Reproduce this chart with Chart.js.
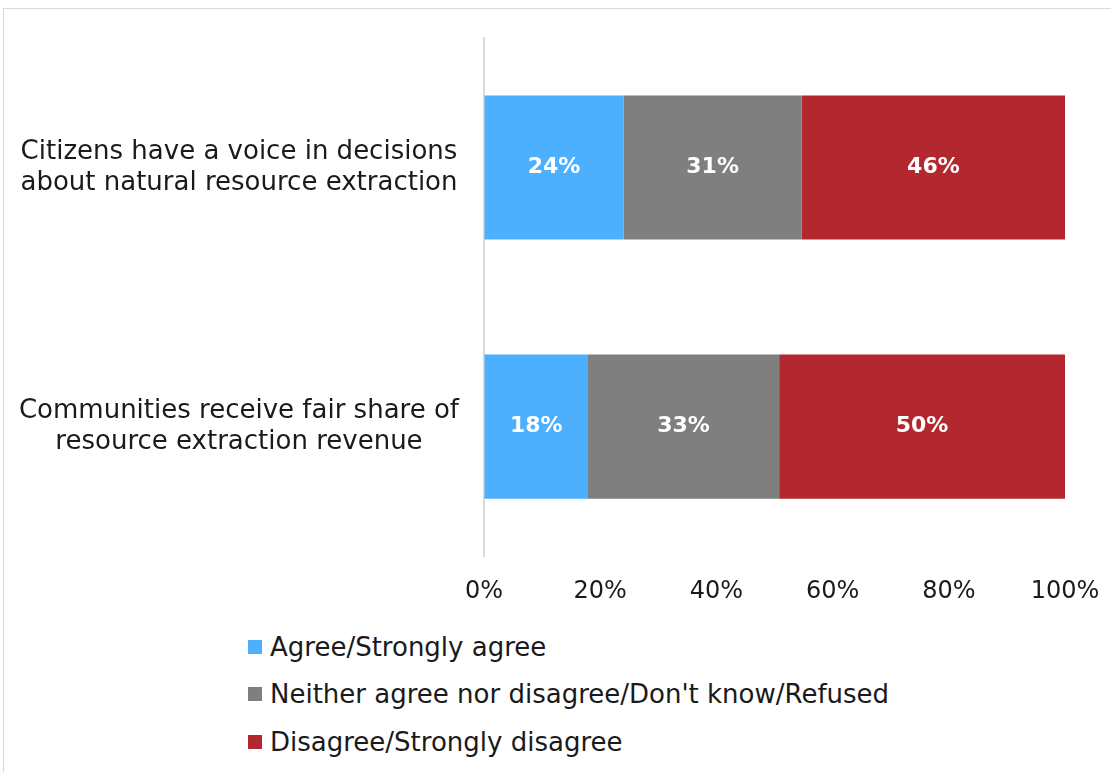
<!DOCTYPE html>
<html>
<head>
<meta charset="utf-8">
<script src="https://cdn.jsdelivr.net/npm/chart.js@4.4.1/dist/chart.umd.min.js"></script>
<style>
  html, body { margin: 0; padding: 0; background: #fff; }
  body { width: 1111px; height: 772px; position: relative; overflow: hidden; font-family: "DejaVu Sans", sans-serif; }
  .frame { position: absolute; left: 3px; top: 8px; width: 1130px; height: 800px; border: 1px solid #d9d9d9; box-sizing: border-box; }
  .chart-box { position: absolute; left: 0; top: 0; width: 1111px; height: 615px; }
  .legend { position: absolute; left: 248px; top: 623px; }
  .legend-item { display: flex; align-items: center; height: 47.5px; font-size: 26px; color: #1a1a1a; }
  .legend-swatch { width: 14px; height: 14px; margin-right: 8px; flex: none; }
</style>
</head>
<body>
<div class="frame"></div>
<div class="chart-box"><canvas id="chart"></canvas></div>
<div class="legend" id="legend"></div>
<script>
// Categories (two-line labels)
const categories = [
  ['Citizens have a voice in decisions', 'about natural resource extraction'],
  ['Communities receive fair share of', 'resource extraction revenue']
];

// Series names and colours
const seriesNames = [
  'Agree/Strongly agree',
  'Neither agree nor disagree/Don\'t know/Refused',
  'Disagree/Strongly disagree'
];
const seriesColors = ['#4db0ff', '#7f7f7f', '#b3282e'];

// Values (share of respondents, %)
const agreeValues = [24.0, 17.9];
const neitherValues = [30.7, 32.9];
const disagreeValues = [45.3, 49.2];

// Labels printed inside the bars
const agreeLabels = ['24%', '18%'];
const neitherLabels = ['31%', '33%'];
const disagreeLabels = ['46%', '50%'];

// X axis ticks
const xTicks = [0, 20, 40, 60, 80, 100];

const seriesValues = [agreeValues, neitherValues, disagreeValues];
const seriesLabels = [agreeLabels, neitherLabels, disagreeLabels];

/**
 * Draws the percentage label in the middle of every bar segment
 */
const barLabels = {
  id: 'barLabels',
  afterDatasetsDraw(chart) {
    const ctx = chart.ctx;
    ctx.save();
    ctx.fillStyle = '#ffffff';
    ctx.font = 'bold 22px "DejaVu Sans", sans-serif';
    ctx.textAlign = 'center';
    ctx.textBaseline = 'middle';
    chart.data.datasets.forEach((ds, i) => {
      const meta = chart.getDatasetMeta(i);
      meta.data.forEach((bar, j) => {
        const p = bar.getCenterPoint();
        ctx.fillText(seriesLabels[i][j], p.x, p.y);
      });
    });
    ctx.restore();
  }
};

const datasets = seriesNames.map((name, i) => ({
  label: name,
  data: seriesValues[i],
  backgroundColor: seriesColors[i],
  borderWidth: 0,
  barPercentage: 0.556,
  categoryPercentage: 1
}));

new Chart(document.getElementById('chart'), {
  type: 'bar',
  data: { labels: categories, datasets },
  options: {
    indexAxis: 'y',
    responsive: true,
    maintainAspectRatio: false,
    animation: false,
    layout: { padding: { left: 3, right: 46, top: 38, bottom: 9 } },
    plugins: {
      legend: { display: false },
      tooltip: { enabled: false }
    },
    scales: {
      x: {
        stacked: true,
        min: 0,
        max: 100,
        afterBuildTicks(scale) {
          scale.ticks = xTicks.map(v => ({ value: v }));
        },
        // invisible tick marks give the gap under the plot
        grid: { color: 'transparent', drawOnChartArea: false, drawTicks: true, tickLength: 21 },
        border: { display: false },
        ticks: {
          padding: 0,
          color: '#1a1a1a',
          font: { family: '"DejaVu Sans", sans-serif', size: 24 },
          callback: v => v + '%'
        }
      },
      y: {
        stacked: true,
        afterFit(scale) { scale.width = 481; },
        grid: { color: 'transparent', drawOnChartArea: false, drawTicks: true, tickLength: 25 },
        border: { display: true, color: '#d9d9d9', width: 2 },
        ticks: {
          crossAlign: 'center',
          padding: 0,
          color: '#1a1a1a',
          font: { family: '"DejaVu Sans", sans-serif', size: 26, lineHeight: 1.2 }
        }
      }
    }
  },
  plugins: [barLabels]
});

// Vertical legend under the chart
document.getElementById('legend').innerHTML = seriesNames.map((name, i) => `
  <div class="legend-item">
    <span class="legend-swatch" style="background:${seriesColors[i]}"></span>${name}
  </div>`).join('');
</script>
</body>
</html>
